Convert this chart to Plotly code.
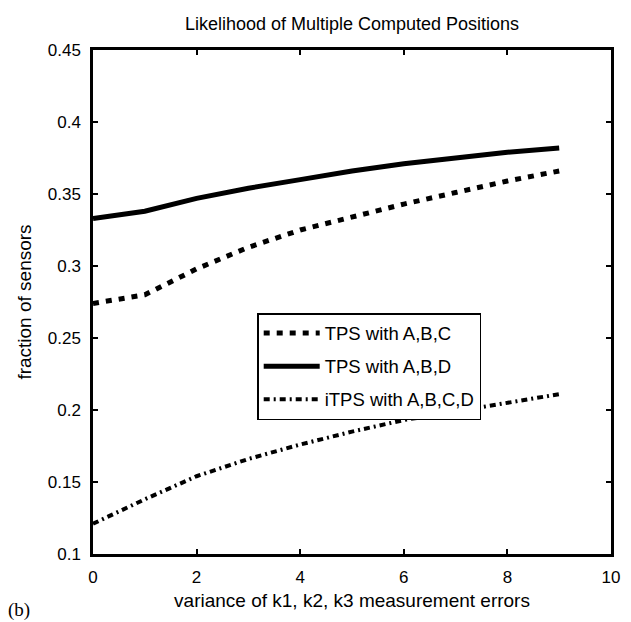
import plotly.graph_objects as go

x_vals = [0, 1, 2, 3, 4, 5, 6, 7, 8, 9]
tps_abc = [0.274, 0.280, 0.298, 0.313, 0.325, 0.334, 0.343, 0.351, 0.359, 0.366]
tps_abd = [0.333, 0.338, 0.347, 0.354, 0.360, 0.366, 0.371, 0.375, 0.379, 0.382]
itps_abcd = [0.121, 0.138, 0.154, 0.166, 0.176, 0.185, 0.193, 0.199, 0.205, 0.211]
series_names = ["TPS with A,B,C", "TPS with A,B,D", "iTPS with A,B,C,D"]

FONT = "Liberation Sans, Arial, sans-serif"

fig = go.Figure()
fig.add_trace(go.Scatter(x=x_vals, y=tps_abc, mode="lines", name=series_names[0], legendgroup="a",
                         line=dict(color="black", width=5, dash="6px,7px")))
fig.add_trace(go.Scatter(x=x_vals, y=tps_abd, mode="lines", name=series_names[1], legendgroup="b",
                         line=dict(color="black", width=5)))
fig.add_trace(go.Scatter(x=x_vals, y=itps_abcd, mode="lines", name=series_names[2], legendgroup="c",
                         line=dict(color="black", width=4, dash="6px,4px,2px,4px")))

axis_common = dict(showline=True, linecolor="black", linewidth=2.5, mirror="ticks",
                   ticks="inside", ticklen=5, tickwidth=1.5, tickcolor="black",
                   showgrid=False, zeroline=False,
                   tickfont=dict(family=FONT, size=17, color="black"))

fig.update_layout(
    width=631, height=622,
    margin=dict(l=93, r=11, t=50, b=68),
    paper_bgcolor="white", plot_bgcolor="white",
    font=dict(family=FONT, color="black"),
    title=dict(text="Likelihood of Multiple Computed Positions", xref="paper", x=0.5, xanchor="center",
               y=1 - 24 / 622, yanchor="middle", font=dict(family=FONT, size=18, color="black")),
    xaxis=dict(range=[0, 10], dtick=2, tick0=0, ticklabelstandoff=6,
               title=dict(text="variance of k1, k2, k3 measurement errors",
                          font=dict(family=FONT, size=19, color="black"), standoff=8),
               **axis_common),
    yaxis=dict(range=[0.1, 0.45], dtick=0.05, tick0=0.1, ticklabelstandoff=6,
               title=dict(text="fraction of sensors",
                          font=dict(family=FONT, size=19, color="black"), standoff=12),
               **axis_common),
    legend=dict(x=0.317, y=0.478, xanchor="left", yanchor="top",
                bgcolor="white", bordercolor="black", borderwidth=1.5,
                tracegroupgap=6, itemwidth=56,
                font=dict(family=FONT, size=18.5, color="black")),
    showlegend=True,
)

fig.add_annotation(text="(b)", xref="paper", yref="paper", x=(18 - 93) / 527, y=(554 - 610) / 504,
                   xanchor="center", yanchor="middle", showarrow=False,
                   font=dict(family="Liberation Serif, Times New Roman, serif", size=19, color="black"))

fig.write_html("out.html")
